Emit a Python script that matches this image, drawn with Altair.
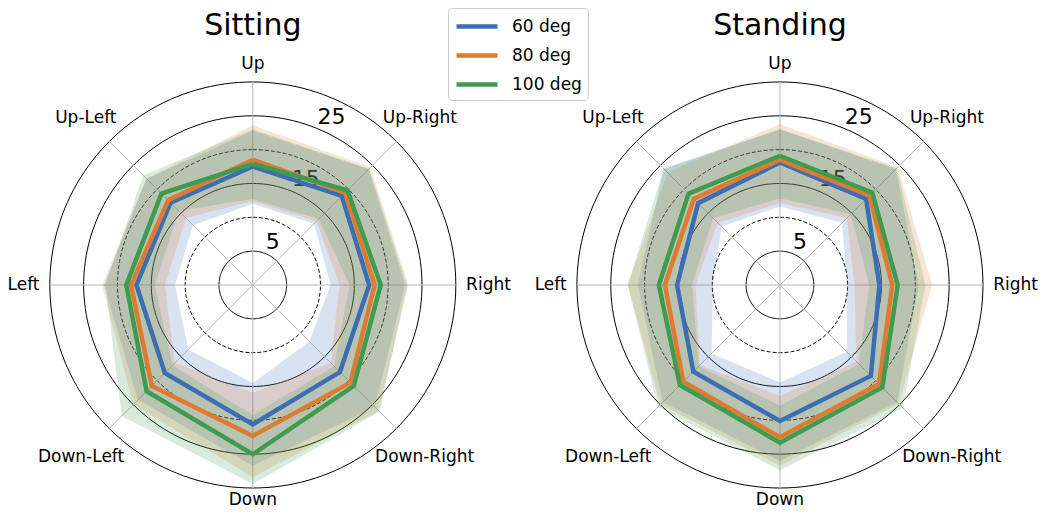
import altair as alt
import pandas as pd
import numpy as np

# ---------------- data ----------------
directions = ["Up", "Up-Right", "Right", "Down-Right", "Down", "Down-Left", "Left", "Up-Left"]
postures = ["Sitting", "Standing"]
series = ["60 deg", "80 deg", "100 deg"]
colors = ["#3C6EB4", "#DE7B33", "#3F9B4F"]

ring_values = [5, 10, 15, 20, 25, 30]
rtick_labels = [5, 15, 25]

# Sitting
sit_60_mean = [17.5, 18.6, 17.2, 18.2, 20.6, 18.4, 17.2, 17.2]
sit_80_mean = [18.5, 19.3, 18.0, 20.4, 22.3, 21.1, 18.0, 17.7]
sit_100_mean = [17.9, 19.8, 18.9, 21.1, 25.0, 22.2, 18.7, 19.1]
sit_60_low = [12.0, 12.8, 11.5, 11.8, 14.5, 13.5, 11.5, 12.5]
sit_80_low = [12.4, 13.3, 12.8, 16.3, 15.9, 16.3, 13.0, 14.0]
sit_100_low = [12.7, 13.8, 14.3, 17.0, 19.2, 16.8, 14.5, 15.5]
sit_60_high = [22.8, 24.2, 22.5, 25.5, 26.7, 24.0, 22.0, 22.2]
sit_80_high = [23.6, 24.6, 23.0, 26.3, 28.4, 25.0, 22.3, 22.2]
sit_100_high = [23.0, 24.3, 22.8, 26.5, 29.4, 27.4, 21.8, 22.9]

# Standing
sta_60_mean = [18.1, 18.0, 14.7, 19.0, 20.1, 18.1, 15.2, 17.1]
sta_80_mean = [18.5, 18.7, 16.6, 20.7, 22.5, 20.2, 17.0, 18.0]
sta_100_mean = [19.1, 19.3, 17.4, 21.4, 23.3, 20.9, 17.9, 19.1]
sta_60_low = [11.6, 13.0, 9.9, 14.0, 14.4, 14.3, 9.9, 12.2]
sta_80_low = [12.1, 14.0, 11.0, 16.0, 16.4, 16.7, 12.5, 13.0]
sta_100_low = [12.8, 14.8, 13.2, 16.5, 17.8, 17.0, 13.0, 14.0]
sta_60_high = [23.0, 24.2, 20.5, 24.5, 26.0, 24.5, 21.0, 24.3]
sta_80_high = [23.8, 24.6, 22.5, 24.8, 26.7, 25.0, 22.5, 23.5]
sta_100_high = [23.0, 24.4, 21.5, 25.7, 27.4, 25.5, 22.5, 24.3]

means = {
    (0, 0): sit_60_mean, (0, 1): sit_80_mean, (0, 2): sit_100_mean,
    (1, 0): sta_60_mean, (1, 1): sta_80_mean, (1, 2): sta_100_mean,
}
lows = {
    (0, 0): sit_60_low, (0, 1): sit_80_low, (0, 2): sit_100_low,
    (1, 0): sta_60_low, (1, 1): sta_80_low, (1, 2): sta_100_low,
}
highs = {
    (0, 0): sit_60_high, (0, 1): sit_80_high, (0, 2): sit_100_high,
    (1, 0): sta_60_high, (1, 1): sta_80_high, (1, 2): sta_100_high,
}

# ---------------- tables ----------------
line_rows, band_rows = [], []
for p in range(len(postures)):
    for s, sname in enumerate(series):
        key = f"{p}{s}"
        m, lo, hi = means[(p, s)], lows[(p, s)], highs[(p, s)]
        for j in range(9):
            line_rows.append(dict(p=p, series=sname, key=key, seq=j, deg=j * 45, r=m[j % 8]))
        for j in range(9):
            band_rows.append(dict(p=p, band=sname, key=key, seq=j, deg=j * 45, r=hi[j % 8]))
        for j in range(9):
            jj = 8 - j
            band_rows.append(dict(p=p, band=sname, key=key, seq=9 + j, deg=jj * 45, r=lo[jj % 8]))
lines_df = pd.DataFrame(line_rows)
bands_df = pd.DataFrame(band_rows)

ring_rows = []
for p in range(len(postures)):
    for rv in ring_values:
        for k in range(0, 181):
            ring_rows.append(dict(p=p, r=rv, key=f"{p}-{rv}", seq=k, deg=k * 2))
rings_df = pd.DataFrame(ring_rows)

spoke_df = pd.DataFrame([dict(p=p, deg=i * 45, r=ring_values[-1])
                         for p in range(len(postures)) for i in range(len(directions))])
dir_df = pd.DataFrame([dict(p=p, i=i, name=d, deg=i * 45)
                       for p in range(len(postures)) for i, d in enumerate(directions)])
rtick_df = pd.DataFrame([dict(p=p, r=v, deg=22.5, label=str(v))
                         for p in range(len(postures)) for v in rtick_labels])
title_df = pd.DataFrame([dict(p=p, name=n) for p, n in enumerate(postures)])

# ---------------- layout / scales ----------------
W, H = 1032, 502
GAP = 77.9  # distance between the two polar centres, in data units
xscale = alt.Scale(domain=[-36.18, 116.33], nice=False, zero=False)
yscale = alt.Scale(domain=[-33.25, 40.93], nice=False, zero=False)
FONT = "DejaVu Sans"


def polar(ch, rexpr="datum.r"):
    return ch.transform_calculate(
        px=f"({rexpr}) * sin(datum.deg * PI / 180) + datum.p * {GAP}",
        py=f"({rexpr}) * cos(datum.deg * PI / 180)",
    )


X = alt.X("px:Q", scale=xscale, axis=None)
Y = alt.Y("py:Q", scale=yscale, axis=None)

rings_solid = polar(alt.Chart(rings_df).mark_line(color="black", strokeWidth=1)).transform_filter(
    "datum.r != 10 && datum.r != 20"
).encode(x=X, y=Y, detail="key:N", order="seq:Q")

rings_dashed = polar(alt.Chart(rings_df).mark_line(color="black", strokeWidth=1, strokeDash=[4, 2])).transform_filter(
    "datum.r == 10 || datum.r == 20"
).encode(x=X, y=Y, detail="key:N", order="seq:Q")

spokes = alt.Chart(spoke_df).mark_rule(color="#b8b8b8", strokeWidth=1).transform_calculate(
    cx=f"datum.p * {GAP}", cy="0",
    ex=f"datum.r * sin(datum.deg * PI / 180) + datum.p * {GAP}",
    ey="datum.r * cos(datum.deg * PI / 180)",
).encode(
    x=alt.X("cx:Q", scale=xscale, axis=None), y=alt.Y("cy:Q", scale=yscale, axis=None),
    x2="ex:Q", y2="ey:Q",
)

rticks = polar(alt.Chart(rtick_df).mark_text(align="left", baseline="bottom", fontSize=22,
                                            font=FONT, color="black")).encode(x=X, y=Y, text="label:N")

bands = polar(alt.Chart(bands_df).mark_line(fillOpacity=0.2, strokeOpacity=0, strokeWidth=0)).encode(
    x=X, y=Y,
    fill=alt.Fill("band:N", sort=series, scale=alt.Scale(range=colors), legend=None),
    detail="key:N", order="seq:Q",
)

mean_lines = polar(alt.Chart(lines_df).mark_line(strokeWidth=4.5)).encode(
    x=X, y=Y,
    color=alt.Color(
        "series:N", scale=alt.Scale(domain=series, range=colors),
        legend=alt.Legend(
            title=None, orient="none", legendX=440, legendY=0,
            symbolType="M-1,0H3.1", symbolSize=400, symbolStrokeWidth=4.5,
            labelFontSize=17, labelFont=FONT, labelColor="black", labelOffset=33,
            rowPadding=7, padding=6, strokeColor="#cccccc", cornerRadius=4,
            fillColor="white",
        ),
    ),
    detail="key:N", order="seq:Q",
)

LAB_R = ("(datum.i == 4) ? 31.75 : (datum.i % 2 == 1) ? ((datum.i == 1 || datum.i == 7) ? 34.9 : 35.9) : "
         "((datum.i == 0) ? 32.66 : 31.52)")


def dir_labels(filt, align):
    return polar(alt.Chart(dir_df).transform_filter(filt).transform_calculate(rl=LAB_R).mark_text(
        align=align, baseline="middle", fontSize=17, font=FONT, color="black"), "datum.rl"
    ).encode(x=X, y=Y, text="name:N")


lab_center = dir_labels("datum.i != 2 && datum.i != 6", "center")
lab_right = dir_labels("datum.i == 2", "left")
lab_left = dir_labels("datum.i == 6", "right")

titles = alt.Chart(title_df).mark_text(fontSize=30, font=FONT, color="black",
                                       baseline="alphabetic", align="center").transform_calculate(
    tx=f"datum.p * {GAP}", ty="36.9"
).encode(x=alt.X("tx:Q", scale=xscale, axis=None), y=alt.Y("ty:Q", scale=yscale, axis=None), text="name:N")

chart = alt.layer(
    rings_solid, rings_dashed, spokes, rticks, bands, mean_lines,
    lab_center, lab_right, lab_left, titles,
).properties(
    width=W, height=H, autosize=alt.AutoSizeParams(type="none"), padding=0,
).configure_view(stroke=None)

chart.save("out.html", embed_options={"renderer": "svg", "actions": False})
